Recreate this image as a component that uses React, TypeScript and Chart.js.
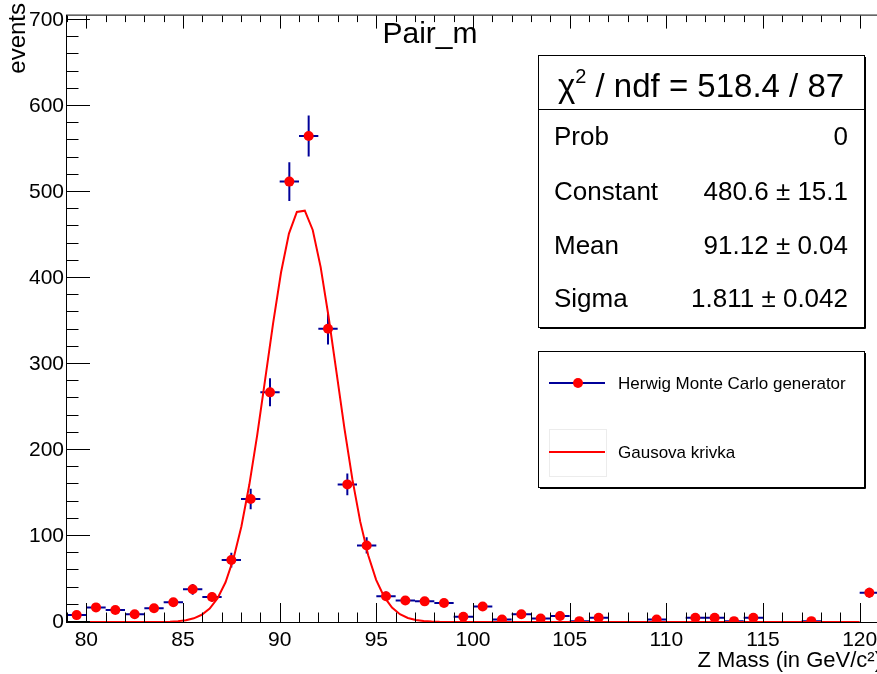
import React, { useEffect, useRef } from "react";
import { Chart, registerables } from "chart.js";

Chart.register(...registerables);

// ---- Data ----
const binCenters = [
  79.5, 80.5, 81.5, 82.5, 83.5, 84.5, 85.5, 86.5, 87.5, 88.5, 89.5, 90.5, 91.5, 92.5,
  93.5, 94.5, 95.5, 96.5, 97.5, 98.5, 99.5, 100.5, 101.5, 102.5, 103.5, 104.5, 105.5,
  106.5, 107.5, 108.5, 109.5, 110.5, 111.5, 112.5, 113.5, 114.5, 115.5, 116.5, 117.5,
  118.5, 119.5, 120.5,
];
const binCounts = [
  8, 17, 14, 9, 16, 23, 38, 29, 72, 143, 267, 512, 565, 341,
  160, 89, 30, 25, 24, 22, 6, 18, 3, 9, 4, 7, 1,
  5, 0, 0, 3, 0, 5, 5, 1, 5, 0, 0, 1,
  0, 0, 34,
];
const binErrors = [
  2.8, 4.1, 3.7, 3.0, 4.0, 4.8, 6.2, 5.4, 8.5, 12.0, 16.3, 22.6, 23.8, 18.5,
  12.6, 9.4, 5.5, 5.0, 4.9, 4.7, 2.4, 4.2, 1.7, 3.0, 2.0, 2.6, 1.0,
  2.2, 0, 0, 1.7, 0, 2.2, 2.2, 1.0, 2.2, 0, 0, 1.0,
  0, 0, 5.8,
];
const binHalfWidth = 0.5;

// Fitted Gaussian curve (polyline samples)
const fitX = [
  79.0, 84.33, 84.74, 85.15, 85.56, 85.97, 86.38, 86.79, 87.2, 87.61, 88.02, 88.43, 88.84,
  89.25, 89.66, 90.07, 90.48, 90.89, 91.3, 91.71, 92.12, 92.53, 92.94, 93.35, 93.76,
  94.17, 94.58, 94.99, 95.4, 95.81, 96.22, 96.63, 97.04, 97.45, 97.86, 98.27, 120.0,
];
const fitY = [
  0, 0.4, 1.0, 2.1, 4.3, 8.4, 15.6, 27.6, 46.2, 73.5, 111.1, 159.5, 217.6,
  282.0, 347.3, 406.3, 451.5, 476.7, 478.2, 455.8, 412.6, 354.9, 290.1, 225.2, 166.1,
  116.4, 77.5, 49.0, 29.4, 16.8, 9.1, 4.7, 2.3, 1.1, 0.45, 0.2, 0,
];

const xMin = 79;
const xMax = 121;
const yMin = 0;
const yMax = 705;
const xTickValues = [80, 85, 90, 95, 100, 105, 110, 115, 120];
const yTickValues = [0, 100, 200, 300, 400, 500, 600, 700];
const xMajorStep = 5;
const yMajorStep = 100;
const xMinorStep = 1;
const yMinorStep = 20;

const histTitle = "Pair_m";
const xTitle = "Z Mass (in GeV/c²)";
const yTitle = "events";
const statsHeader = { chi: "χ", sup: "2", rest: " / ndf = 518.4 / 87" };
const statsRows = [
  ["Prob", "0"],
  ["Constant", "480.6 ± 15.1"],
  ["Mean", "91.12 ± 0.04"],
  ["Sigma", "1.811 ± 0.042"],
];
const legendLabels = ["Herwig Monte Carlo generator", "Gausova krivka"];

const FONT = '"Liberation Sans", Arial, Helvetica, sans-serif';
const f = (s: number) => `${s}px ${FONT}`;
const BLUE = "#000099";
const RED = "#ff0000";

const rootPlugin = {
  id: "rootStyle",
  beforeDatasetsDraw(chart: any) {
    const { ctx, chartArea: a, scales } = chart;
    const x = scales.x;
    const y = scales.y;
    ctx.save();
    ctx.beginPath();
    ctx.rect(a.left, a.top, a.right - a.left, a.bottom - a.top);
    ctx.clip();
    ctx.strokeStyle = BLUE;
    ctx.lineWidth = 2;
    binCenters.forEach((c, i) => {
      const v = binCounts[i];
      if (!v) return;
      const e = binErrors[i];
      const px = x.getPixelForValue(c);
      const py = y.getPixelForValue(v);
      ctx.beginPath();
      ctx.moveTo(x.getPixelForValue(c - binHalfWidth), py);
      ctx.lineTo(x.getPixelForValue(c + binHalfWidth), py);
      ctx.moveTo(px, y.getPixelForValue(v - e));
      ctx.lineTo(px, y.getPixelForValue(v + e));
      ctx.stroke();
    });
    ctx.restore();
  },
  afterDraw(chart: any) {
    const { ctx, chartArea: a, scales } = chart;
    const x = scales.x;
    const y = scales.y;
    ctx.save();
    // frame
    ctx.strokeStyle = "#000";
    ctx.lineWidth = 1;
    ctx.strokeRect(a.left - 0.5, a.top - 0.5, a.right - a.left + 1, a.bottom - a.top + 1);
    // ticks
    ctx.beginPath();
    for (let v = xMin; v <= xMax + 1e-9; v += xMinorStep) {
      const major = Math.abs(v / xMajorStep - Math.round(v / xMajorStep)) < 1e-6;
      const px = Math.round(x.getPixelForValue(v)) + 0.5;
      ctx.moveTo(px, a.bottom);
      ctx.lineTo(px, a.bottom - (major ? 19 : 9.5));
      ctx.moveTo(px, a.top);
      ctx.lineTo(px, a.top + (major ? 13 : 6.5));
    }
    for (let v = yMin; v <= yMax + 1e-9; v += yMinorStep) {
      const major = Math.abs(v / yMajorStep - Math.round(v / yMajorStep)) < 1e-6;
      const py = Math.round(y.getPixelForValue(v)) - 0.5;
      ctx.moveTo(a.left, py);
      ctx.lineTo(a.left + (major ? 23 : 11.5), py);
    }
    ctx.stroke();

    ctx.fillStyle = "#000";
    // histogram title
    ctx.font = f(30);
    ctx.textAlign = "center";
    ctx.textBaseline = "alphabetic";
    ctx.fillText(histTitle, 430, 43);
    // x title
    ctx.font = f(22);
    ctx.textAlign = "right";
    ctx.fillText(xTitle, 882, 667);
    // y title
    ctx.save();
    ctx.translate(25, 3);
    ctx.rotate(-Math.PI / 2);
    ctx.font = f(24);
    ctx.textAlign = "right";
    ctx.fillText(yTitle, 0, 0);
    ctx.restore();

    // stats box
    const sx = 538, sy = 55, sw = 326, sh = 272;
    ctx.fillStyle = "#fff";
    ctx.fillRect(sx, sy, sw, sh);
    ctx.strokeStyle = "#000";
    ctx.lineWidth = 1;
    ctx.strokeRect(sx + 0.5, sy + 0.5, sw, sh);
    ctx.beginPath();
    ctx.moveTo(sx, sy + 54.5);
    ctx.lineTo(sx + sw, sy + 54.5);
    ctx.moveTo(sx + sw + 1.5, sy + 2);
    ctx.lineTo(sx + sw + 1.5, sy + sh + 1.5);
    ctx.lineTo(sx + 2, sy + sh + 1.5);
    ctx.stroke();
    ctx.fillStyle = "#000";
    ctx.font = f(33);
    const wChi = ctx.measureText(statsHeader.chi).width;
    const wRest = ctx.measureText(statsHeader.rest).width;
    ctx.font = f(20);
    const wSup = ctx.measureText(statsHeader.sup).width;
    const total = wChi + wSup + wRest;
    let hx = sx + sw / 2 - total / 2;
    ctx.textAlign = "left";
    ctx.font = f(33);
    ctx.fillText(statsHeader.chi, hx, 97);
    hx += wChi;
    ctx.font = f(20);
    ctx.fillText(statsHeader.sup, hx, 83);
    hx += wSup;
    ctx.font = f(33);
    ctx.fillText(statsHeader.rest, hx, 97);
    ctx.font = f(26);
    const rowBase = [145, 200, 254, 307];
    statsRows.forEach((r, i) => {
      ctx.textAlign = "left";
      ctx.fillText(r[0], 554, rowBase[i]);
      ctx.textAlign = "right";
      ctx.fillText(r[1], 848, rowBase[i]);
    });

    // legend box
    const lx = 538, ly = 351, lw = 326, lh = 136;
    ctx.fillStyle = "#fff";
    ctx.fillRect(lx, ly, lw, lh);
    ctx.strokeStyle = "#000";
    ctx.strokeRect(lx + 0.5, ly + 0.5, lw, lh);
    ctx.beginPath();
    ctx.moveTo(lx + lw + 1.5, ly + 2);
    ctx.lineTo(lx + lw + 1.5, ly + lh + 1.5);
    ctx.lineTo(lx + 2, ly + lh + 1.5);
    ctx.stroke();
    // entry 1
    ctx.strokeStyle = BLUE;
    ctx.lineWidth = 2;
    ctx.beginPath();
    ctx.moveTo(549, 383);
    ctx.lineTo(605, 383);
    ctx.stroke();
    ctx.fillStyle = RED;
    ctx.beginPath();
    ctx.arc(578, 383, 5, 0, Math.PI * 2);
    ctx.fill();
    // entry 2
    ctx.strokeStyle = "#ececec";
    ctx.lineWidth = 1;
    ctx.strokeRect(549.5, 429.5, 57, 47);
    ctx.strokeStyle = RED;
    ctx.lineWidth = 2;
    ctx.beginPath();
    ctx.moveTo(549, 452);
    ctx.lineTo(605, 452);
    ctx.stroke();
    ctx.fillStyle = "#000";
    ctx.font = f(17);
    ctx.textAlign = "left";
    ctx.textBaseline = "middle";
    ctx.fillText(legendLabels[0], 618, 384);
    ctx.fillText(legendLabels[1], 618, 453);
    ctx.restore();
  },
};

export default function App() {
  const ref = useRef<HTMLCanvasElement | null>(null);
  useEffect(() => {
    document.body.style.margin = "0";
    const canvas = ref.current!;
    const chart = new Chart(canvas, {
      type: "scatter",
      data: {
        datasets: [
          {
            label: legendLabels[1],
            type: "line",
            data: fitX.map((xv, i) => ({ x: xv, y: fitY[i] })),
            borderColor: RED,
            borderWidth: 2,
            pointRadius: 0,
            tension: 0,
            fill: false,
            order: 0,
          } as any,
          {
            label: legendLabels[0],
            data: binCenters.map((c, i) => ({ x: c, y: binCounts[i] ? binCounts[i] : null })),
            backgroundColor: RED,
            borderColor: RED,
            pointRadius: 5,
            pointBorderWidth: 0,
            showLine: false,
            order: 1,
          } as any,
        ],
      },
      options: {
        responsive: false,
        animation: false,
        devicePixelRatio: 1,
        layout: { padding: { top: 12, right: 4, left: 0, bottom: 0 } },
        plugins: { legend: { display: false }, tooltip: { enabled: false }, title: { display: false } },
        scales: {
          x: {
            type: "linear",
            min: xMin,
            max: xMax,
            grid: { display: false, drawTicks: false },
            border: { display: false },
            ticks: {
              padding: 6,
              color: "#000",
              font: { family: FONT, size: 21 },
              maxRotation: 0,
              minRotation: 0,
              autoSkip: false,
            },
            afterBuildTicks: (s: any) => {
              s.ticks = xTickValues.map((v) => ({ value: v }));
            },
            afterFit: (s: any) => {
              s.height = 52;
            },
          },
          y: {
            type: "linear",
            min: yMin,
            max: yMax,
            grid: { display: false, drawTicks: false },
            border: { display: false },
            ticks: {
              padding: 3,
              color: "#000",
              font: { family: FONT, size: 21 },
              autoSkip: false,
            },
            afterBuildTicks: (s: any) => {
              s.ticks = yTickValues.map((v) => ({ value: v }));
            },
            afterFit: (s: any) => {
              s.width = 67;
            },
          },
        },
      },
      plugins: [rootPlugin],
    });
    return () => chart.destroy();
  }, []);
  return (
    <div style={{ width: 877, height: 674, overflow: "hidden", position: "relative", background: "#fff" }}>
      <canvas ref={ref} width={884} height={674} style={{ display: "block" }} />
    </div>
  );
}
